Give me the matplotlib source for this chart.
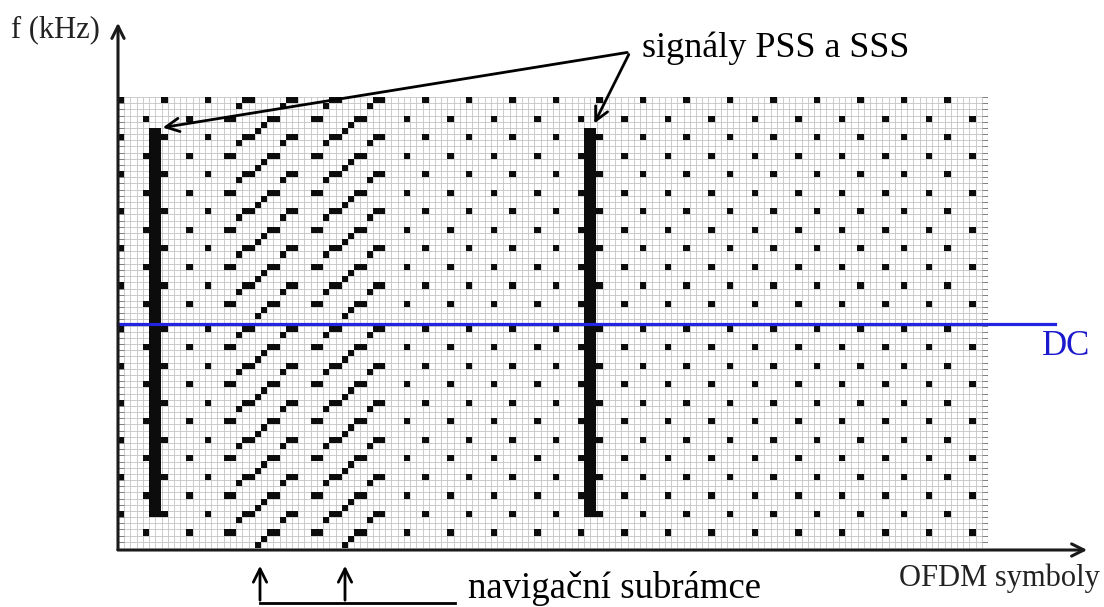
import numpy as np
import matplotlib
matplotlib.use('Agg')
import matplotlib.pyplot as plt
from matplotlib.colors import ListedColormap

plt.rcParams['font.family'] = ['Liberation Serif', 'DejaVu Serif']

# LTE radio frame: 20 slots x 7 OFDM symbols, 72 subcarriers + DC
n_symbols = 140
n_subcarriers = 72
dc_index = 36
symbols_per_slot = 7
symbols_per_subframe = 14

# cell-specific reference signals (symbol in slot, subcarrier offset)
crs_symbols = [0, 4]
crs_offsets = [0, 3]

# positioning ("navigation") subframes and their pattern
prs_subframes = [1, 2]
prs_symbols = [3, 5, 6, 8, 9, 10, 12, 13]
prs_offsets = [3, 1, 0, 5, 4, 3, 1, 0]

# PSS / SSS columns, 62 central subcarriers
sync_symbols = [5, 6, 75, 76]
sync_first_k = 5
sync_last_k = 66

n_rows = n_subcarriers + 1


def row(k):
    return k if k < dc_index else k + 1


grid = np.zeros((n_rows, n_symbols))
for s in range(n_symbols // symbols_per_slot):
    for l, off in zip(crs_symbols, crs_offsets):
        for k in range(off, n_subcarriers, 6):
            grid[row(k), s * symbols_per_slot + l] = 1
for sf in prs_subframes:
    for l, off in zip(prs_symbols, prs_offsets):
        for k in range(off, n_subcarriers, 6):
            grid[row(k), sf * symbols_per_subframe + l] = 1
for sym in sync_symbols:
    grid[row(sync_first_k):row(sync_last_k) + 1, sym] = 1

W, H = 1104, 607
fig = plt.figure(figsize=(W / 100, H / 100), dpi=100)
x0, x1, y0, y1 = 118, 988, 97, 548
ax = fig.add_axes([x0 / W, 1 - y1 / H, (x1 - x0) / W, (y1 - y0) / H])
ax.set_xlim(0, n_symbols)
ax.set_ylim(n_rows, 0)
ax.axis('off')

sx = (x1 - x0) / n_symbols
sy = (y1 - y0) / n_rows


def px(x, y):
    return ((x - x0) / sx, (y - y0) / sy)


# light resource grid
ax.vlines(np.arange(n_symbols + 1), 0, n_rows, color='#c4c4c4', lw=0.6, zorder=1)
ax.hlines(np.arange(n_rows + 1), 0, n_symbols, color='#c4c4c4', lw=0.6, zorder=1)
ax.hlines(np.arange(n_rows + 1), 0, 1, color='#808080', lw=0.7, zorder=1)
ax.hlines(np.arange(n_rows + 1), n_symbols - 1, n_symbols, color='#808080', lw=0.7, zorder=1)
ax.vlines([n_symbols], 0, n_rows, color='#909090', lw=0.8, zorder=1)

cmap = ListedColormap([(1, 1, 1, 0), (0.05, 0.05, 0.05, 1)])
ax.imshow(grid, cmap=cmap, extent=[0, n_symbols, n_rows, 0], interpolation='nearest',
          aspect='auto', zorder=2)

# DC line
dcy = px(0, 324)[1]
ax.plot([0, px(1055, 0)[0]], [dcy, dcy], color='#2424e0', lw=2.3, clip_on=False, zorder=3)
ax.text(*px(1042, 347), 'DC', color='#1a1acc', fontsize=25, ha='left', va='center')

# axes arrows
ak = dict(arrowstyle='->', color='#1a1a1a', lw=2.2, mutation_scale=22)
ax.annotate('', xy=px(118, 20), xytext=px(118, 552), arrowprops=ak, annotation_clip=False)
ax.annotate('', xy=px(1090, 550), xytext=px(115, 550), arrowprops=ak, annotation_clip=False)
ax.text(*px(100, 30), 'f (kHz)', fontsize=22, ha='right', va='center', color='#222222')
ax.text(*px(1100, 578), 'OFDM symboly', fontsize=22, ha='right', va='center', color='#222222')

# PSS/SSS annotation
ax.text(*px(642, 48), 'signály PSS a SSS', fontsize=26, ha='left', va='center')
pk = dict(arrowstyle='->', color='black', lw=2, mutation_scale=24)
ax.annotate('', xy=px(160, 128), xytext=px(630, 52), arrowprops=pk, annotation_clip=False)
ax.annotate('', xy=px(593, 126), xytext=px(630, 52), arrowprops=pk, annotation_clip=False)

# navigation subframes annotation
for xa in [260, 345]:
    ax.annotate('', xy=px(xa, 563), xytext=px(xa, 603), arrowprops=pk, annotation_clip=False)
ax.plot(*zip(px(260, 603), px(455, 603)), color='black', lw=2, clip_on=False)
ax.text(*px(468, 588), 'navigační subrámce', fontsize=26.5, ha='left', va='center')

fig.savefig('out.png', dpi=100)
